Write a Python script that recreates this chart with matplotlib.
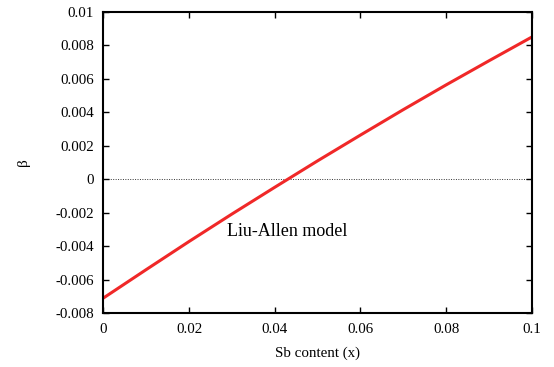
import matplotlib
matplotlib.use("Agg")
import matplotlib.pyplot as plt

# Sb content and the corresponding beta values (Liu-Allen model)
sb_content = [0.0, 0.01, 0.02, 0.03, 0.04, 0.05, 0.06, 0.07, 0.08, 0.09, 0.1]
beta = [-0.00710, -0.00540, -0.00372, -0.00208, -0.00048, 0.00110,
        0.00264, 0.00416, 0.00564, 0.00708, 0.00850]

x_ticks = [0, 0.02, 0.04, 0.06, 0.08, 0.1]
x_tick_labels = ["0", "0.02", "0.04", "0.06", "0.08", "0.1"]
y_ticks = [-0.008, -0.006, -0.004, -0.002, 0, 0.002, 0.004, 0.006, 0.008, 0.01]
y_tick_labels = ["-0.008", "-0.006", "-0.004", "-0.002", "0",
                 "0.002", "0.004", "0.006", "0.008", "0.01"]

plt.rcParams["font.family"] = ["Liberation Serif", "DejaVu Serif"]

fig = plt.figure(figsize=(5.54, 3.67), dpi=100)
ax = fig.add_axes([0.1868, 0.1471, 0.9598 - 0.1868, 0.9673 - 0.1471])

ax.axhline(0, color="#333333", lw=0.7, linestyle=(0, (1, 1.5)), zorder=1)
ax.plot(sb_content, beta, color="#f02828", lw=2.2, zorder=2)

ax.set_xlim(0, 0.1)
ax.set_ylim(-0.008, 0.01)
ax.set_xticks(x_ticks)
ax.set_xticklabels(x_tick_labels)
ax.set_yticks(y_ticks)
ax.set_yticklabels(y_tick_labels)

ax.tick_params(direction="in", length=4, width=1, top=True, right=True,
               labelsize=10.8, colors="black")
ax.tick_params(axis="y", pad=7)
ax.tick_params(axis="x", pad=7)
for s in ax.spines.values():
    s.set_linewidth(1.5)

ax.set_xlabel("Sb content (x)", fontsize=10.8, labelpad=8)
ax.set_ylabel("β", fontsize=11, labelpad=18)

ax.text(0.0289, -0.00337, "Liu-Allen model", fontsize=13,
        ha="left", va="baseline")

fig.savefig("out.png", dpi=100)
